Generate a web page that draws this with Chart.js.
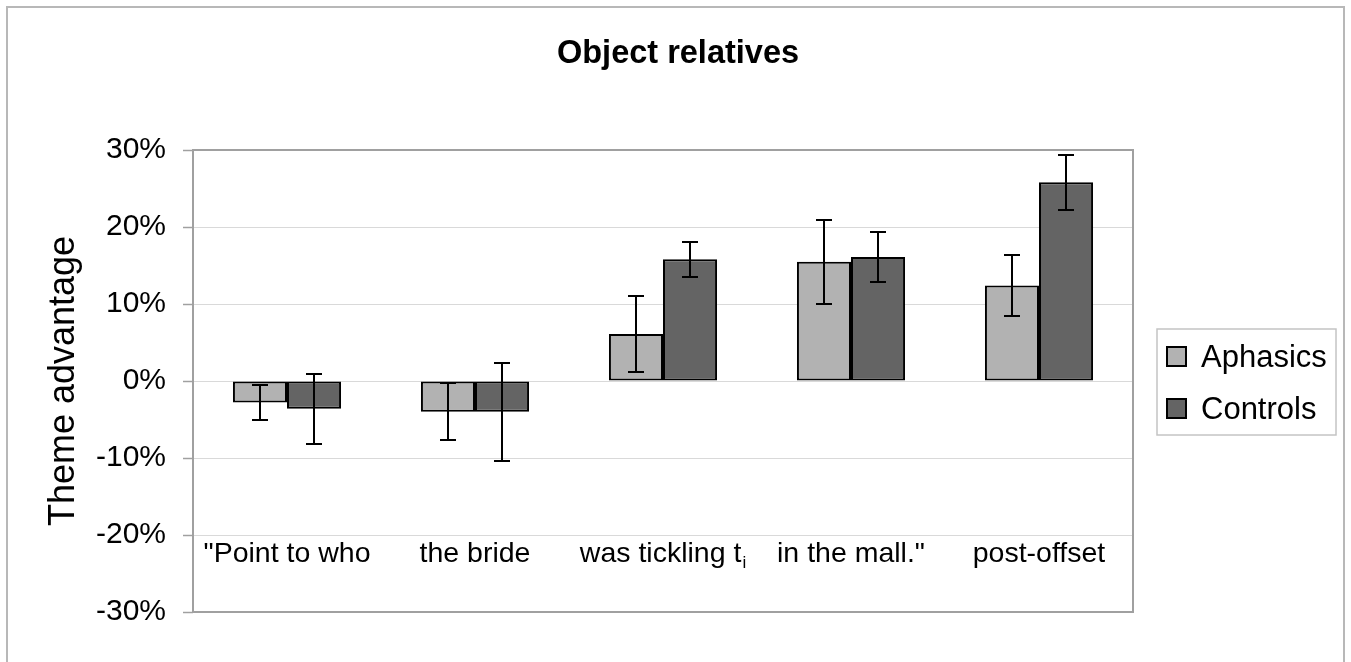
<!DOCTYPE html>
<html>
<head>
<meta charset="utf-8">
<script src="https://cdn.jsdelivr.net/npm/chart.js@4/dist/chart.umd.min.js"></script>
<style>
  html, body { margin: 0; padding: 0; background: #ffffff; }
  #c { display: block; }
</style>
</head>
<body>
<canvas id="c" width="1351" height="662"></canvas>
<script>
// Sentence regions (the third one carries a subscript index)
const categories = ['"Point to who', 'the bride', 'was tickling t', 'in the mall."', 'post-offset'];
const categorySubscripts = ['', '', 'i', '', ''];

// Theme advantage (%) and error half-widths per region
const aphasics    = [-2.8, -4.0, 6.1, 15.5, 12.4];
const aphasicsErr = [2.3, 3.7, 4.9, 5.45, 3.9];
const controls    = [-3.6, -4.0, 15.8, 16.1, 25.8];
const controlsErr = [4.55, 6.4, 2.25, 3.2, 3.6];

// Value axis
const yTicks = [-30, -20, -10, 0, 10, 20, 30];

const chartTitle = 'Object relatives';
const FONT = '"Liberation Sans", Arial, sans-serif';

const errorArrays = [aphasicsErr, controlsErr];

// White background, outer frame and the centred heading
const framePlugin = {
  id: 'frame',
  beforeDraw(chart) {
    const ctx = chart.ctx;
    ctx.save();
    ctx.fillStyle = '#ffffff';
    ctx.fillRect(0, 0, chart.width, chart.height);
    ctx.strokeStyle = '#b8b8b8';
    ctx.lineWidth = 2;
    ctx.strokeRect(7, 7, 1337, 700);
    ctx.fillStyle = '#000000';
    ctx.font = 'bold 32.5px ' + FONT;
    ctx.textAlign = 'center';
    ctx.textBaseline = 'middle';
    ctx.fillText(chartTitle, 678, 54);
    ctx.restore();
  }
};

// Plot border, error bars, in-plot category labels and the boxed legend
const decorPlugin = {
  id: 'decor',
  afterDatasetsDraw(chart) {
    const ctx = chart.ctx;
    const y = chart.scales.y;
    const a = chart.chartArea;

    // error bars
    ctx.save();
    ctx.strokeStyle = '#000000';
    ctx.lineWidth = 2;
    chart.data.datasets.forEach((ds, i) => {
      const meta = chart.getDatasetMeta(i);
      const errs = errorArrays[i];
      meta.data.forEach((bar, j) => {
        const v = ds.data[j];
        const e = errs[j];
        const yt = Math.round(y.getPixelForValue(v + e));
        const yb = Math.round(y.getPixelForValue(v - e));
        const x = Math.round(bar.x);
        ctx.beginPath();
        ctx.moveTo(x, yt); ctx.lineTo(x, yb);
        ctx.moveTo(x - 8, yt); ctx.lineTo(x + 8, yt);
        ctx.moveTo(x - 8, yb); ctx.lineTo(x + 8, yb);
        ctx.stroke();
      });
    });
    ctx.restore();

    // plot border
    ctx.save();
    ctx.strokeStyle = '#a0a0a0';
    ctx.lineWidth = 2;
    ctx.strokeRect(a.left, a.top, a.right - a.left, a.bottom - a.top);
    ctx.restore();

    // category labels inside the plot, below the -20% line
    const xs = chart.scales.x;
    ctx.save();
    ctx.fillStyle = '#000000';
    ctx.textBaseline = 'alphabetic';
    ctx.textAlign = 'left';
    const baseY = 562;
    categories.forEach((lab, i) => {
      const cx = xs.getPixelForValue(i);
      ctx.font = '28.5px ' + FONT;
      const w1 = ctx.measureText(lab).width;
      const sub = categorySubscripts[i];
      ctx.font = '17px ' + FONT;
      const w2 = sub ? ctx.measureText(sub).width + 1 : 0;
      const x0 = cx - (w1 + w2) / 2;
      ctx.font = '28.5px ' + FONT;
      ctx.fillText(lab, x0, baseY);
      if (sub) {
        ctx.font = '17px ' + FONT;
        ctx.fillText(sub, x0 + w1 + 1, baseY + 6);
      }
    });
    ctx.restore();

    // legend
    ctx.save();
    ctx.strokeStyle = '#c4c4c4';
    ctx.lineWidth = 1.5;
    ctx.strokeRect(1157, 329, 179, 106);
    ctx.font = '31px ' + FONT;
    ctx.textBaseline = 'middle';
    ctx.textAlign = 'left';
    chart.data.datasets.forEach((ds, i) => {
      const cy = 357 + i * 52;
      ctx.fillStyle = ds.backgroundColor;
      ctx.fillRect(1167, cy - 10, 19, 19);
      ctx.strokeStyle = '#000000';
      ctx.lineWidth = 2;
      ctx.strokeRect(1167, cy - 10, 19, 19);
      ctx.fillStyle = '#000000';
      ctx.fillText(ds.label, 1201, cy + 1);
    });
    ctx.restore();
  }
};

new Chart(document.getElementById('c'), {
  type: 'bar',
  data: {
    labels: categories,
    datasets: [
      {
        label: 'Aphasics',
        data: aphasics,
        backgroundColor: '#b2b2b2',
        borderColor: '#000000',
        borderWidth: 2,
        borderSkipped: false
      },
      {
        label: 'Controls',
        data: controls,
        backgroundColor: '#646464',
        borderColor: '#000000',
        borderWidth: 2,
        borderSkipped: false
      }
    ]
  },
  options: {
    responsive: false,
    animation: false,
    devicePixelRatio: 1,
    layout: { padding: { left: 8, right: 218, top: 150, bottom: 50 } },
    datasets: { bar: { categoryPercentage: 0.575, barPercentage: 1.0 } },
    plugins: {
      legend: { display: false },
      tooltip: { enabled: false },
      title: { display: false }
    },
    scales: {
      x: {
        display: false
      },
      y: {
        min: -30,
        max: 30,
        afterFit(scale) { scale.width = 185; },
        afterBuildTicks(scale) { scale.ticks = yTicks.map(v => ({ value: v })); },
        ticks: {
          color: '#000000',
          padding: 17,
          font: { family: FONT, size: 30 },
          callback: v => v + '%'
        },
        grid: {
          color: '#d9d9d9',
          lineWidth: 1,
          tickColor: '#a0a0a0',
          tickLength: 10,
          tickWidth: 1.5
        },
        border: { display: false },
        title: {
          display: true,
          text: 'Theme advantage',
          color: '#000000',
          font: { family: FONT, size: 36 },
          padding: { top: 34, bottom: 0 }
        }
      }
    }
  },
  plugins: [framePlugin, decorPlugin]
});
</script>
</body>
</html>
